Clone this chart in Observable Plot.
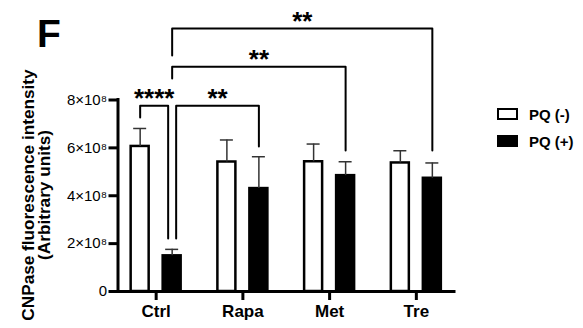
<!DOCTYPE html>
<html>
<head>
<meta charset="utf-8">
<script src="https://cdn.jsdelivr.net/npm/d3@7"></script>
<script src="https://cdn.jsdelivr.net/npm/@observablehq/plot@0.6"></script>
<style>
  html, body { margin: 0; padding: 0; background: #fff; }
  #wrap { position: relative; width: 583px; height: 328px; font-family: Arial, "Liberation Sans", Helvetica, sans-serif; color: #000; }
  #wrap svg { position: absolute; left: 0; top: 0; overflow: visible; }
  .panel { position: absolute; left: 37px; top: 14px; font-size: 39px; font-weight: bold; line-height: 1; }
  .ytitle { position: absolute; left: 36px; top: 195px; width: 320px; margin-left: -160px; transform: translate(0,-50%) rotate(-90deg); text-align: center; font-size: 17.2px; font-weight: bold; line-height: 16px; }
  .legend { position: absolute; left: 497px; top: 105px; font-size: 15px; font-weight: bold; }
  .legend .item { display: flex; align-items: center; height: 18px; margin-bottom: 9px; }
  .legend .sw { width: 17px; height: 8px; border: 2.5px solid #000; margin-right: 11px; box-sizing: content-box; }
</style>
</head>
<body>
<div id="wrap"></div>
<script>
const categories = ["Ctrl", "Rapa", "Met", "Tre"];
const series = ["PQ (-)", "PQ (+)"];
const meanNeg = [6.06e8, 5.41e8, 5.42e8, 5.37e8];
const sdNeg   = [0.75e8, 0.92e8, 0.74e8, 0.51e8];
const meanPos = [1.49e8, 4.30e8, 4.84e8, 4.73e8];
const sdPos   = [0.27e8, 1.33e8, 0.58e8, 0.64e8];
const yTicks = [0, 2e8, 4e8, 6e8, 8e8];
// significance brackets: [category, series] endpoints, bracket level, leg ends, label
const bracketFrom  = [[0, 0], [0, 1], [0, 1], [0, 1]];
const bracketTo    = [[0, 1], [1, 1], [2, 1], [3, 1]];
const bracketLevel = [7.76e8, 7.76e8, 9.39e8, 10.99e8];
const bracketLeftEnd  = [7.27e8, 2.21e8, 8.90e8, 9.86e8];
const bracketRightEnd = [2.21e8, 6.06e8, 5.89e8, 5.89e8];
const bracketLabel = ["****", "**", "**", "**"];

// layout (styling) constants
const W = 583, H = 328;
const xDomain = [-0.44, 3.44];
const pxPerUnit = (454 - 117.5) / (xDomain[1] - xDomain[0]);
const off = 16 / pxPerUnit, half = 9 / pxPerUnit, cap = 6.5 / pxPerUnit;
const nudgeFrom = [0, 4, 0, 0], nudgeTo = [-4, 0, 0, 0];
const fills = ["#fff", "#000"];

const rows = [];
categories.forEach((c, i) => {
  rows.push({i, s: 0, mean: meanNeg[i], sd: sdNeg[i]});
  rows.push({i, s: 1, mean: meanPos[i], sd: sdPos[i]});
});
const xc = d => d.i + (d.s === 0 ? -off : off);

const bracketPts = [];
const bracketText = [];
bracketLabel.forEach((lab, k) => {
  const [fi, fs] = bracketFrom[k], [ti, ts] = bracketTo[k];
  const xl = fi + (fs === 0 ? -off : off) + nudgeFrom[k] / pxPerUnit;
  const xr = ti + (ts === 0 ? -off : off) + nudgeTo[k] / pxPerUnit;
  bracketPts.push({k, x: xl, y: bracketLeftEnd[k]});
  bracketPts.push({k, x: xl, y: bracketLevel[k]});
  bracketPts.push({k, x: xr, y: bracketLevel[k]});
  bracketPts.push({k, x: xr, y: bracketRightEnd[k]});
  bracketText.push({x: (xl + xr) / 2, y: bracketLevel[k], label: lab});
});

const fmt = d => d === 0 ? "0" : `${d / 1e8}×10⁸`;

const plot = Plot.plot({
  width: W, height: H,
  marginLeft: 117.5, marginRight: W - 454, marginTop: 99.5, marginBottom: 37,
  style: {fontFamily: 'Arial, "Liberation Sans", Helvetica, sans-serif', color: "#000", background: "transparent", overflow: "visible"},
  x: {type: "linear", domain: xDomain},
  y: {domain: [0, 8e8]},
  marks: [
    Plot.axisY({ticks: yTicks, tickFormat: fmt, tickSize: 9, tickPadding: 2, strokeWidth: 3, fontSize: 15, label: null}),
    Plot.axisX({ticks: [0, 1, 2, 3], tickFormat: i => categories[i], tickSize: 9, tickPadding: 4, strokeWidth: 3, fontSize: 17, fontWeight: "bold", label: null}),
    Plot.rectY(rows, {x1: d => xc(d) - half, x2: d => xc(d) + half, y1: 0, y2: "mean", fill: d => fills[d.s], stroke: "#000", strokeWidth: 2.5}),
    Plot.ruleX(rows, {x: xc, y1: "mean", y2: d => d.mean + d.sd, stroke: "#333", strokeWidth: 1.5}),
    Plot.ruleY(rows, {y: d => d.mean + d.sd, x1: d => xc(d) - cap, x2: d => xc(d) + cap, stroke: "#333", strokeWidth: 1.5}),
    Plot.line(bracketPts, {x: "x", y: "y", z: "k", stroke: "#000", strokeWidth: 2, curve: "linear"}),
    Plot.text(bracketText, {x: "x", y: "y", text: "label", dy: -7, fontSize: 26, fontWeight: "bold", lineAnchor: "middle"}),
    Plot.ruleX([xDomain[0]], {y1: 0, y2: 8e8, stroke: "#000", strokeWidth: 3, strokeLinecap: "square"}),
    Plot.ruleY([0], {x1: xDomain[0], x2: xDomain[1], stroke: "#000", strokeWidth: 3, strokeLinecap: "square"})
  ]
});

const wrap = document.getElementById("wrap");
wrap.appendChild(plot);

const F = document.createElement("div");
F.className = "panel"; F.textContent = "F";
wrap.appendChild(F);

const yt = document.createElement("div");
yt.className = "ytitle";
yt.innerHTML = "CNPase fluorescence intensity<br>(Arbitrary units)";
wrap.appendChild(yt);

const lg = document.createElement("div");
lg.className = "legend";
series.forEach((s, j) => {
  const it = document.createElement("div"); it.className = "item";
  const sw = document.createElement("div"); sw.className = "sw"; sw.style.background = fills[j];
  const tx = document.createElement("span"); tx.textContent = s;
  it.appendChild(sw); it.appendChild(tx); lg.appendChild(it);
});
wrap.appendChild(lg);
</script>
</body>
</html>
